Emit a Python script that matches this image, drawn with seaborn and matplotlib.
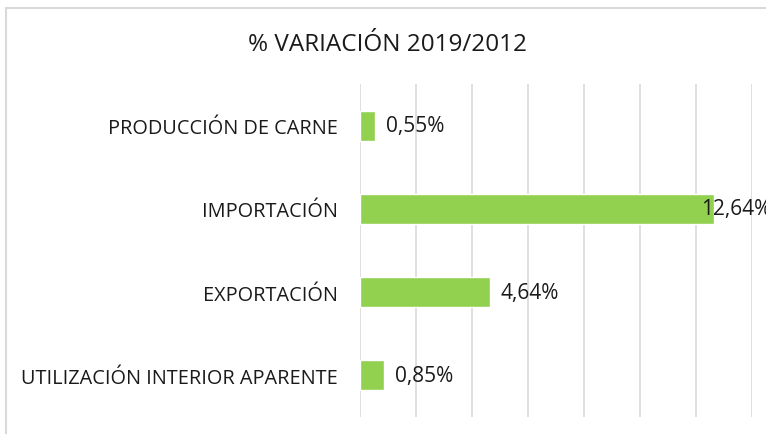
import matplotlib
matplotlib.use("Agg")
import matplotlib.pyplot as plt
import seaborn as sns
import pandas as pd
from matplotlib.patches import Rectangle

categories = ["PRODUCCIÓN DE CARNE", "IMPORTACIÓN", "EXPORTACIÓN", "UTILIZACIÓN INTERIOR APARENTE"]
values = [0.55, 12.64, 4.64, 0.85]
value_labels = ["0,55%", "12,64%", "4,64%", "0,85%"]
title = "% VARIACIÓN 2019/2012"

sns.set_theme(style="white")
plt.rcParams['font.family'] = ['Open Sans', 'DejaVu Sans']

df = pd.DataFrame({"cat": categories, "val": values})

fig = plt.figure(figsize=(7.66, 4.35), dpi=100)
ax = fig.add_axes([360/766, 1-418/435, (752-360)/766, (418-85)/435])

sns.barplot(data=df, y="cat", x="val", orient="h", color="#92D050",
            saturation=1, width=0.36, ax=ax)

ax.set_xlim(0, 14)
ax.set_xticks(range(0, 15, 2))
ax.set_xticklabels([])
ax.tick_params(axis="x", length=0)
ax.tick_params(axis="y", length=0, labelsize=14.3, labelcolor="#1a1a1a", pad=16)
ax.grid(axis="x", color="#D9D9D9", linewidth=1.2)
ax.set_axisbelow(True)
for s in ax.spines.values():
    s.set_visible(False)
ax.set_xlabel("")
ax.set_ylabel("")

for i, (v, lab) in enumerate(zip(values, value_labels)):
    off = -13 if v == max(values) else 11
    ax.annotate(lab, xy=(v, i), xytext=(off, 0), textcoords="offset pixels",
                ha="left", va="center", fontsize=15, color="#1a1a1a",
                annotation_clip=False)

fig.text(388/766, 1-45/435, title, ha="center", va="center", fontsize=17.5,
         color="#1a1a1a")

fig.patches.append(Rectangle((6/766, -0.1), 1.2, 1-9/435+0.1, transform=fig.transFigure,
                             fill=False, edgecolor="#D9D9D9", linewidth=1.5))

fig.savefig("out.png", dpi=100)
